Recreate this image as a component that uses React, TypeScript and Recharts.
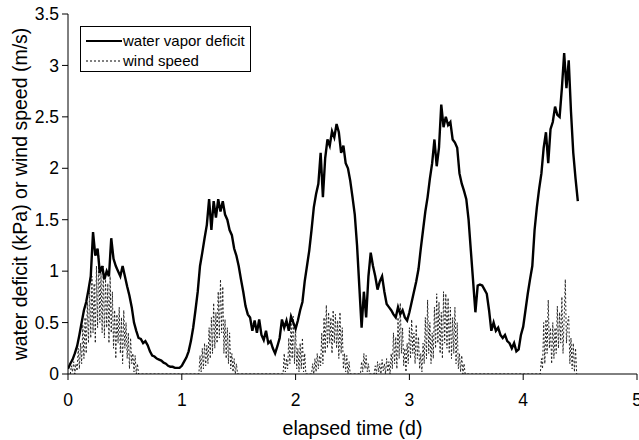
import { LineChart, Line, XAxis, YAxis, Legend } from "recharts";

// water vapor deficit (kPa), sampled every 0.02 d from t = 0
const VPD_STEP = 0.02;
const vpdValues = [
    0.05, 0.10, 0.14, 0.20, 0.27, 0.38, 0.50, 0.62, 0.70, 0.82,
    0.95, 1.38, 1.15, 1.22, 0.98, 1.05, 0.92, 1.00, 0.95, 1.32,
    1.12, 1.05, 1.00, 0.95, 1.05, 0.95, 0.85, 0.76, 0.65, 0.50,
    0.42, 0.35, 0.34, 0.30, 0.32, 0.28, 0.22, 0.18, 0.17, 0.15,
    0.14, 0.13, 0.11, 0.10, 0.08, 0.07, 0.07, 0.06, 0.06, 0.06,
    0.08, 0.12, 0.16, 0.22, 0.32, 0.45, 0.62, 0.80, 1.05, 1.18,
    1.32, 1.45, 1.70, 1.40, 1.68, 1.52, 1.70, 1.58, 1.68, 1.55,
    1.50, 1.40, 1.35, 1.22, 1.15, 1.05, 0.92, 0.80, 0.66, 0.58,
    0.55, 0.42, 0.52, 0.40, 0.53, 0.38, 0.33, 0.42, 0.30, 0.32,
    0.25, 0.20, 0.27, 0.35, 0.53, 0.45, 0.52, 0.42, 0.56, 0.50,
    0.44, 0.52, 0.62, 0.70, 0.90, 1.05, 1.20, 1.40, 1.62, 1.75,
    1.85, 2.15, 1.72, 2.10, 2.28, 2.22, 2.36, 2.30, 2.43, 2.35,
    2.15, 2.22, 2.05, 2.00, 1.88, 1.72, 1.55, 1.25, 0.85, 0.45,
    0.80, 0.55, 0.95, 1.18, 1.05, 0.95, 0.82, 0.90, 0.95, 0.80,
    0.68, 0.65, 0.62, 0.58, 0.55, 0.65, 0.58, 0.62, 0.55, 0.52,
    0.60, 0.70, 0.80, 0.90, 1.02, 1.22, 1.40, 1.58, 1.72, 1.90,
    2.05, 2.28, 2.02, 2.20, 2.62, 2.40, 2.50, 2.42, 2.45, 2.28,
    2.25, 2.20, 1.95, 1.85, 1.78, 1.70, 1.50, 1.20, 0.90, 0.60,
    0.86, 0.87, 0.86, 0.82, 0.78, 0.62, 0.42, 0.50, 0.42, 0.45,
    0.38, 0.35, 0.38, 0.32, 0.30, 0.25, 0.30, 0.22, 0.24,
    0.38, 0.46, 0.62, 0.78, 0.92, 1.05, 1.40, 1.62, 1.80, 1.95,
    2.20, 2.35, 2.05, 2.38, 2.45, 2.60, 2.52, 2.50, 2.78, 3.12,
    2.78, 3.05, 2.55, 2.15, 1.90, 1.68,
];

// wind speed (m/s): gusty bursts, each sampled every 0.01 d from its start time
const WIND_STEP = 0.01;
const windStarts = [0.02, 1.15, 1.89, 2.14, 2.57, 2.69, 4.15];
const windDay0 = [
    0.00, 0.08, 0.02, 0.12, 0.00, 0.10, 0.03, 0.25, 0.05, 0.30,
    0.10, 0.48, 0.15, 0.55, 0.20, 0.70, 0.30, 0.85, 0.35, 0.95,
    0.40, 0.88, 0.30, 1.05, 0.45, 1.15, 0.50, 0.98, 0.40, 1.05,
    0.35, 0.92, 0.45, 0.88, 0.30, 0.95, 0.40, 0.80, 0.25, 0.62,
    0.15, 0.58, 0.30, 0.65, 0.20, 0.55, 0.10, 0.62, 0.25, 0.50,
    0.15, 0.40, 0.05, 0.35, 0.10, 0.20, 0.02, 0.18, 0.00, 0.10,
    0.00,
];
const windDay1 = [
    0.00, 0.18, 0.02, 0.25, 0.05, 0.30, 0.08, 0.28, 0.10, 0.45,
    0.15, 0.55, 0.20, 0.69, 0.25, 0.60, 0.30, 0.80, 0.35, 0.92,
    0.40, 0.85, 0.20, 0.53, 0.15, 0.45, 0.10, 0.40, 0.05, 0.20,
    0.02, 0.15, 0.00, 0.10, 0.00,
];
const windDay2a = [
    0.00, 0.20, 0.02, 0.15, 0.05, 0.35, 0.10, 0.50, 0.15, 0.56,
    0.10, 0.45, 0.05, 0.25, 0.02, 0.30, 0.05, 0.35, 0.02, 0.20,
    0.00, 0.00,
];
const windDay2b = [
    0.00, 0.10, 0.00, 0.15, 0.02, 0.20, 0.05, 0.18, 0.08, 0.40,
    0.10, 0.55, 0.20, 0.67, 0.25, 0.60, 0.30, 0.55, 0.20, 0.62,
    0.30, 0.58, 0.25, 0.52, 0.15, 0.60, 0.20, 0.45, 0.05, 0.20,
    0.02, 0.18, 0.00, 0.12, 0.00,
];
const windDay2c = [0.00, 0.12, 0.02, 0.20, 0.05, 0.18, 0.02, 0.10, 0.00];
const windDay3 = [
    0.00, 0.08, 0.00, 0.12, 0.02, 0.10, 0.00, 0.14, 0.03, 0.10,
    0.00, 0.15, 0.02, 0.12, 0.00, 0.20, 0.05, 0.40, 0.10, 0.36,
    0.05, 0.55, 0.15, 0.69, 0.20, 0.45, 0.08, 0.25, 0.02, 0.30,
    0.10, 0.45, 0.15, 0.53, 0.20, 0.40, 0.10, 0.48, 0.15, 0.36,
    0.05, 0.20, 0.02, 0.30, 0.10, 0.55, 0.15, 0.72, 0.20, 0.50,
    0.10, 0.40, 0.15, 0.65, 0.25, 0.78, 0.30, 0.70, 0.20, 0.60,
    0.15, 0.80, 0.30, 0.78, 0.25, 0.74, 0.20, 0.65, 0.15, 0.55,
    0.20, 0.65, 0.10, 0.50, 0.05, 0.20, 0.02, 0.18, 0.00, 0.10,
    0.00,
];
const windDay4 = [
    0.00, 0.15, 0.05, 0.50, 0.10, 0.53, 0.20, 0.72, 0.25, 0.45,
    0.10, 0.50, 0.15, 0.45, 0.20, 0.66, 0.25, 0.60, 0.30, 0.75,
    0.20, 0.55, 0.92, 0.30, 0.50, 0.56, 0.10, 0.35, 0.05, 0.30,
    0.02, 0.25, 0.00,
];
const windBursts = [windDay0, windDay1, windDay2a, windDay2b, windDay2c, windDay3, windDay4];

const xTicks = [0, 1, 2, 3, 4, 5];
const yTicks = [0, 0.5, 1, 1.5, 2, 2.5, 3, 3.5];

const vpdData = vpdValues.map((v, i) => ({ t: +(i * VPD_STEP).toFixed(2), v }));
const windData = windBursts.flatMap((burst, b) =>
    burst.map((w, i) => ({ t: +(windStarts[b] + i * WIND_STEP).toFixed(2), w }))
);

const FONT = "'Liberation Sans', Arial, sans-serif";

function LegendBox() {
    const row = { display: "flex", alignItems: "center", height: 20 };
    return (
        <div
            style={{
                width: 171,
                height: 46,
                boxSizing: "border-box",
                border: "1px solid #000",
                background: "#fff",
                paddingTop: 4,
                fontFamily: FONT,
                fontSize: 15,
                color: "#000",
                lineHeight: "20px",
            }}
        >
            <div style={row}>
                <svg width={36} height={4} style={{ marginLeft: 5 }}>
                    <line x1={0} y1={2} x2={36} y2={2} stroke="#000" strokeWidth={2} />
                </svg>
                <span style={{ marginLeft: 1 }}>water vapor deficit</span>
            </div>
            <div style={row}>
                <svg width={36} height={4} style={{ marginLeft: 5 }}>
                    <line x1={0} y1={2} x2={36} y2={2} stroke="#000" strokeWidth={1} strokeDasharray="2 2" />
                </svg>
                <span style={{ marginLeft: 1 }}>wind speed</span>
            </div>
        </div>
    );
}

export default function App() {
    const tick = { fontSize: 17.5, fill: "#000", fontFamily: FONT };
    return (
        <div style={{ position: "absolute", left: 0, top: 0, width: 639, height: 440, background: "#fff", fontFamily: FONT }}>
            <LineChart width={639} height={440} margin={{ top: 14, right: 2, left: 0, bottom: 0 }}>
                <XAxis
                    dataKey="t"
                    type="number"
                    domain={[0, 5]}
                    ticks={xTicks}
                    interval={0}
                    height={66}
                    tick={tick}
                    tickSize={6}
                    tickMargin={14}
                    stroke="#000"
                    allowDataOverflow
                    label={{ value: "elapsed time (d)", position: "center", dy: 21, style: { fontSize: 19.5, fill: "#000", fontFamily: FONT } }}
                />
                <XAxis xAxisId="top" orientation="top" type="number" domain={[0, 5]} height={0} tick={false} tickLine={false} stroke="#333" />
                <YAxis
                    type="number"
                    domain={[0, 3.5]}
                    ticks={yTicks}
                    interval={0}
                    width={68}
                    tick={tick}
                    tickSize={6}
                    tickMargin={3}
                    stroke="#000"
                    allowDataOverflow
                    label={{ value: "water deficit (kPa) or wind speed (m/s)", angle: -90, position: "center", dx: -14, style: { fontSize: 19.5, fill: "#000", fontFamily: FONT } }}
                />
                <YAxis yAxisId="right" orientation="right" type="number" domain={[0, 3.5]} width={0} tick={false} tickLine={false} stroke="#333" />
                <Legend
                    layout="vertical"
                    align="center"
                    verticalAlign="middle"
                    content={() => <LegendBox />}
                    wrapperStyle={{ left: 80, top: 26, width: 171, height: 46 }}
                />
                <Line
                    data={windData}
                    dataKey="w"
                    name="wind speed"
                    type="linear"
                    stroke="#222"
                    strokeWidth={1}
                    strokeDasharray="2 2"
                    dot={false}
                    activeDot={false}
                    isAnimationActive={false}
                />
                <Line
                    data={vpdData}
                    dataKey="v"
                    name="water vapor deficit"
                    type="linear"
                    stroke="#000"
                    strokeWidth={2.4}
                    dot={false}
                    activeDot={false}
                    isAnimationActive={false}
                />
            </LineChart>
        </div>
    );
}
